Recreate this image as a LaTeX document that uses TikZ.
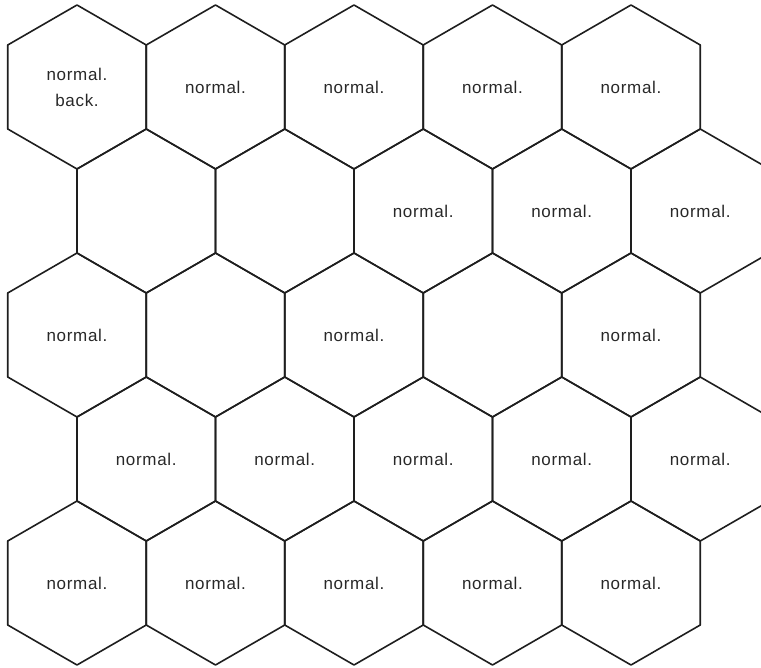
\documentclass[tikz,border=0pt]{standalone}
\usepackage{fontspec}
\setmainfont{Liberation Sans}
\usepackage{xcolor}
\usepackage{tikz}
\usetikzlibrary{calc}
\definecolor{gridline}{RGB}{30,30,30}
\definecolor{labeltext}{RGB}{40,40,40}

\begin{document}
\begin{tikzpicture}[
  x=1pt, y=-1pt,
  hexcell/.style={draw=gridline, line width=1.6pt, line join=round},
  celltext/.style={align=center, inner sep=0pt, text=labeltext,
    font=\fontsize{17}{26}\selectfont\addfontfeatures{LetterSpace=4}}
]
\useasboundingbox (0,0) rectangle (761,668);
\clip (0,0) rectangle (761,668);
% honeycomb, odd rows shifted half a cell to the right
\foreach \r in {0,...,4}
  \foreach \c in {0,...,4} {
    \pgfmathsetmacro{\cx}{77+138.5*\c+69.25*mod(\r,2)}
    \pgfmathsetmacro{\cy}{87+124*\r}
    \coordinate (c\r\c) at (\cx,\cy);
    \draw[hexcell] ($(c\r\c)+(0,-82)$) -- ++(69.25,40) -- ++(0,84)
      -- ++(-69.25,40) -- ++(-69.25,-40) -- ++(0,-84) -- cycle;
  }
% row 1
\node[celltext] (n00) at (c00) {normal.\\back.};
\node[celltext] (n01) at (c01) {normal.};
\node[celltext] (n02) at (c02) {normal.};
\node[celltext] (n03) at (c03) {normal.};
\node[celltext] (n04) at (c04) {normal.};
% row 2
\node[celltext] (n12) at (c12) {normal.};
\node[celltext] (n13) at (c13) {normal.};
\node[celltext] (n14) at (c14) {normal.};
% row 3
\node[celltext] (n20) at (c20) {normal.};
\node[celltext] (n22) at (c22) {normal.};
\node[celltext] (n24) at (c24) {normal.};
% row 4
\node[celltext] (n30) at (c30) {normal.};
\node[celltext] (n31) at (c31) {normal.};
\node[celltext] (n32) at (c32) {normal.};
\node[celltext] (n33) at (c33) {normal.};
\node[celltext] (n34) at (c34) {normal.};
% row 5
\node[celltext] (n40) at (c40) {normal.};
\node[celltext] (n41) at (c41) {normal.};
\node[celltext] (n42) at (c42) {normal.};
\node[celltext] (n43) at (c43) {normal.};
\node[celltext] (n44) at (c44) {normal.};
\end{tikzpicture}
\end{document}
